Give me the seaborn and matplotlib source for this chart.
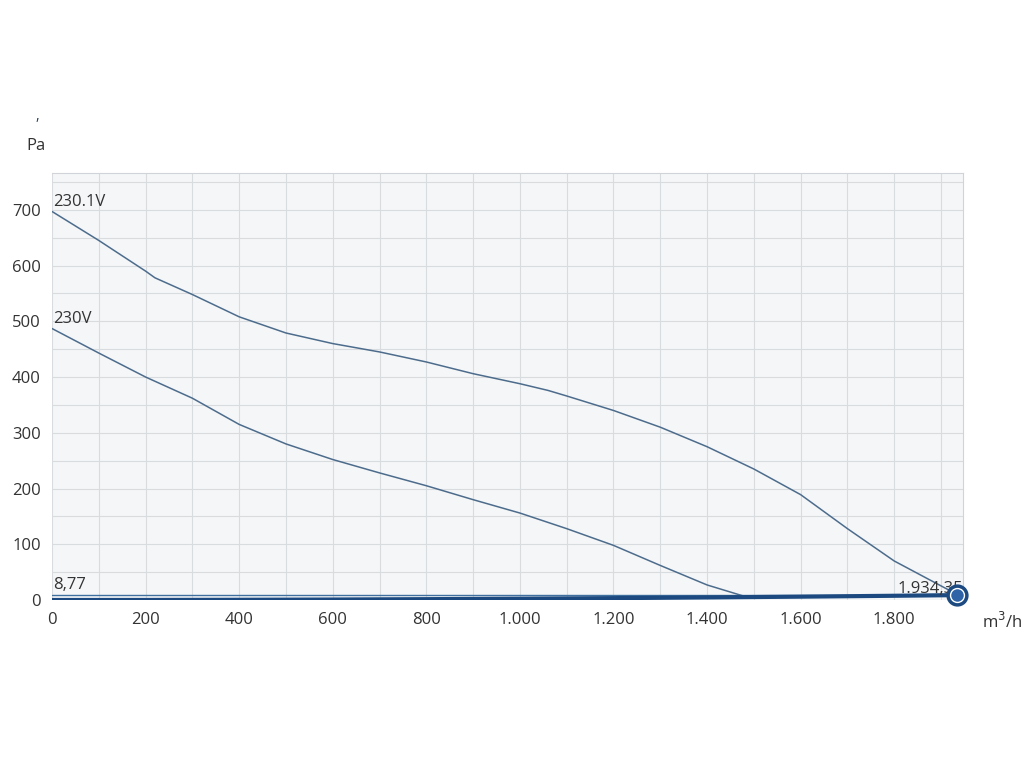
import numpy as np
import pandas as pd
import matplotlib
matplotlib.use("Agg")
import matplotlib.pyplot as plt
import seaborn as sns
from matplotlib.ticker import FuncFormatter, MultipleLocator

sns.set_style("white")
plt.rcParams['font.family'] = ['Open Sans', 'DejaVu Sans']

# Data
flow_a = [0, 100, 200, 220, 300, 400, 500, 600, 700, 800, 900, 1000, 1060, 1100, 1200, 1300, 1400, 1500, 1600, 1700, 1800, 1934.35]
pres_a = [697, 645, 590, 578, 548, 508, 479, 460, 445, 427, 406, 388, 376, 366, 340, 310, 275, 235, 189, 128, 70, 10]
flow_b = [0, 100, 200, 300, 400, 500, 600, 700, 800, 900, 1000, 1100, 1200, 1300, 1400, 1490]
pres_b = [487, 443, 400, 362, 315, 280, 252, 228, 205, 180, 156, 128, 98, 62, 27, 4]
sys_flow = np.array([0, 200, 400, 600, 800, 1000, 1200, 1400, 1600, 1800, 1934.35])
sys_pres = [0.0, 0.09, 0.38, 0.84, 1.50, 2.34, 3.37, 4.59, 6.00, 7.59, 8.77]
op_flow, op_pres = 1934.35, 8.77
labels = ["230.1V", "230V"]

df_a = pd.DataFrame({"q": flow_a, "p": pres_a})
df_b = pd.DataFrame({"q": flow_b, "p": pres_b})
df_s = pd.DataFrame({"q": sys_flow, "p": sys_pres})

fig = plt.figure(figsize=(10.24, 7.68), dpi=100)
ax = fig.add_axes([52/1024, 1-600/768, (963-52)/1024, (600-173)/768])
ax.set_facecolor("#f4f6f8")

curve_col = "#4d6c8c"
sns.lineplot(data=df_a, x="q", y="p", ax=ax, color=curve_col, lw=1.1, sort=False)
sns.lineplot(data=df_b, x="q", y="p", ax=ax, color=curve_col, lw=1.1, sort=False)
ax.plot([0, op_flow], [op_pres, op_pres], color="#3e6f9f", lw=1.0)
sns.lineplot(data=df_s, x="q", y="p", ax=ax, color="#1c4a80", lw=3.0, sort=False)

ax.set_xlim(0, 1947)
ax.set_ylim(0, 766)
ax.xaxis.set_major_locator(MultipleLocator(200))
ax.xaxis.set_minor_locator(MultipleLocator(100))
ax.yaxis.set_major_locator(MultipleLocator(100))
ax.yaxis.set_minor_locator(MultipleLocator(50))
ax.grid(True, which="both", color="#d9dcdf", lw=0.8)
ax.set_axisbelow(True)

def fmt_x(v, pos):
    return f"{int(v):,}".replace(",", ".")
ax.xaxis.set_major_formatter(FuncFormatter(fmt_x))
ax.tick_params(axis="both", which="major", labelsize=12, labelcolor="#333333",
               color="#c8ccd0", length=6, width=0.9)
ax.tick_params(axis="x", which="major", direction="out", pad=3)
ax.tick_params(axis="y", which="major", pad=2)
ax.tick_params(which="minor", length=0)
ax.set_xlabel("")
ax.set_ylabel("")
for s in ["top", "right"]:
    ax.spines[s].set_color("#d0d3d7")
ax.spines["left"].set_visible(False)
ax.spines["bottom"].set_visible(False)

ax.text(2, 697 + 3, labels[0], fontsize=12, color="#333333", va="bottom", ha="left")
ax.text(2, 487 + 3, labels[1], fontsize=12, color="#333333", va="bottom", ha="left")
ax.text(2, op_pres + 3, "8,77", fontsize=12, color="#333333", va="bottom", ha="left")
ax.text(op_flow + 12, op_pres - 3, "1.934,35", fontsize=12, color="#333333", va="bottom",
        ha="right", zorder=4)
ax.plot([op_flow], [op_pres], marker="o", ms=15, mfc="#1c4a80", mec="#1c4a80", zorder=6,
        clip_on=False)
ax.plot([op_flow], [op_pres], marker="o", ms=10, mfc="#2f63a8", mec="white", mew=1.0, zorder=7,
        clip_on=False)

fig.text(26/1024, 1-146/768, "Pa", fontsize=12, color="#333333", va="center", ha="left")
fig.text(35/1024, 1-117/768, ",", fontsize=10, color="#1c3a5a", va="center", ha="left")
fig.text(982/1024, 1-622/768, "m$^3$/h", fontsize=12, color="#333333", va="center", ha="left")

fig.savefig("out.png", dpi=100)
